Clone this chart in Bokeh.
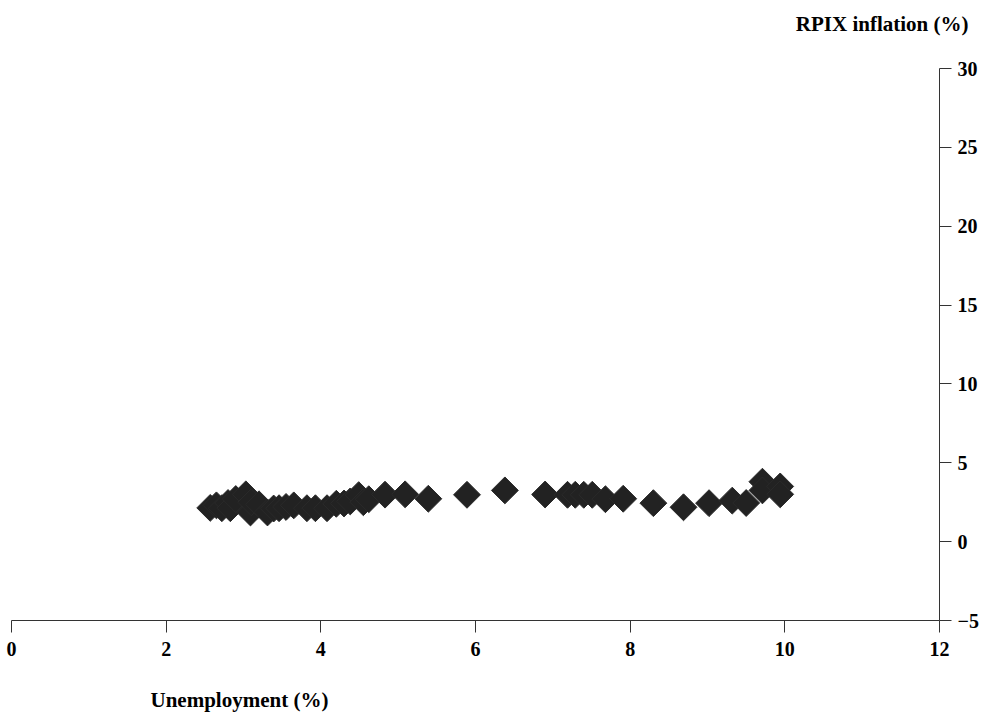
from bokeh.plotting import figure
from bokeh.models import Range1d, FixedTicker, Title, ColumnDataSource
from bokeh.embed import file_html
from bokeh.resources import INLINE
import math

# Data (unemployment %, RPIX inflation %)
unemployment = [2.57, 2.65, 2.72, 2.80, 2.83, 2.90, 3.03, 3.09, 3.10, 3.20,
                3.31, 3.39, 3.46, 3.55, 3.65, 3.82, 3.93, 4.08, 4.20, 4.30,
                4.38, 4.49, 4.55, 4.62, 4.83, 5.09, 5.39, 5.89, 6.38, 6.90,
                7.19, 7.29, 7.40, 7.51, 7.68, 7.91, 8.30, 8.69, 9.02, 9.32,
                9.50, 9.71, 9.71, 9.94, 9.94]
inflation = [2.14, 2.30, 2.12, 2.45, 2.12, 2.70, 3.00, 1.85, 2.50, 2.37,
             1.85, 2.10, 2.12, 2.20, 2.30, 2.12, 2.12, 2.12, 2.40, 2.42,
             2.55, 2.95, 2.50, 2.69, 2.98, 3.00, 2.72, 2.97, 3.25, 2.99,
             2.97, 2.97, 2.97, 2.97, 2.69, 2.72, 2.44, 2.18, 2.44, 2.60,
             2.45, 3.80, 3.25, 3.50, 3.00]
x_ticks = [0, 2, 4, 6, 8, 10, 12]
y_ticks = [-5, 0, 5, 10, 15, 20, 25, 30]
x_title = "Unemployment (%)"
y_title = "RPIX inflation (%)"

FONT = "Liberation Serif"

p = figure(width=997, height=717, output_backend="svg", toolbar_location=None,
           x_range=Range1d(0, 12), y_range=Range1d(-5, 30),
           x_axis_location="below", y_axis_location="right",
           min_border_left=11, min_border_right=58,
           min_border_top=68, min_border_bottom=97)
p.grid.visible = False
p.outline_line_color = None
p.background_fill_color = "white"
p.border_fill_color = "white"

src = ColumnDataSource(dict(x=unemployment, y=inflation))
p.scatter("x", "y", source=src, marker="square", size=19, angle=math.pi / 4,
          fill_color="#222222", line_color="#2a2a2a", line_width=1)

for ax in (p.xaxis[0], p.yaxis[0]):
    ax.major_tick_in = 0
    ax.major_tick_out = 12
    ax.minor_tick_line_color = None
    ax.major_label_text_font = FONT
    ax.major_label_text_font_style = "bold"
    ax.major_label_text_font_size = "20px"
    ax.major_label_text_color = "black"
    ax.axis_line_color = "#333333"
    ax.major_tick_line_color = "#333333"
p.xaxis[0].major_label_standoff = 9
p.yaxis[0].major_label_standoff = 6

p.xaxis[0].ticker = FixedTicker(ticks=x_ticks)
p.yaxis[0].ticker = FixedTicker(ticks=y_ticks)
p.yaxis[0].major_label_overrides = {-5: "\u22125"}

# two-line texts so that the visible line sits at the outer edge of the side panels
p.add_layout(Title(text=" \n" + x_title, align="left", offset=139, standoff=6,
                   vertical_align="bottom",
                   text_font=FONT, text_font_style="bold", text_font_size="21px",
                   text_color="black"), "below")
p.add_layout(Title(text=y_title + "\n ", align="right", offset=-29, standoff=18,
                   vertical_align="bottom",
                   text_font=FONT, text_font_style="bold", text_font_size="21px",
                   text_color="black"), "above")

open("out.html", "w").write(file_html(p, INLINE))
